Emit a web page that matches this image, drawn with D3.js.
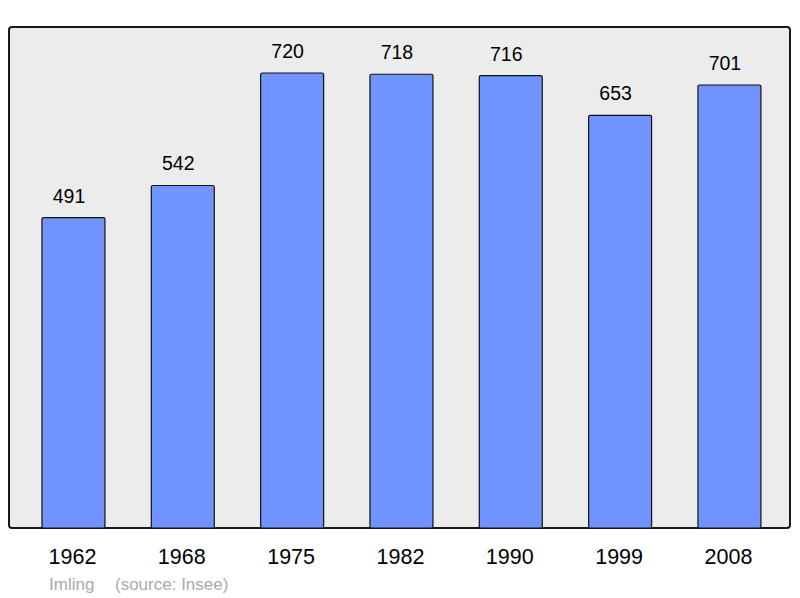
<!DOCTYPE html>
<html>
<head>
<meta charset="utf-8">
<title>Population</title>
<script src="https://cdn.jsdelivr.net/npm/d3@7"></script>
<style>
  body { margin: 0; background: #fff; }
  text { font-family: "Liberation Sans", Arial, sans-serif; }
</style>
</head>
<body>
<svg id="chart" width="800" height="598"></svg>
<script>
// data
var years = ["1962", "1968", "1975", "1982", "1990", "1999", "2008"];
var population = [491, 542, 720, 718, 716, 653, 701];
var footerAuthor = "Imling";
var footerSource = "(source: Insee)";

var svg = d3.select("#chart");

// frame
svg.append("rect")
    .attr("x", 9).attr("y", 27)
    .attr("width", 781).attr("height", 501)
    .attr("rx", 3)
    .attr("fill", "#ececec")
    .attr("stroke", "#1a1a1a")
    .attr("stroke-width", 2);

var x = d3.scaleBand()
    .domain(years)
    .range([18.8, 784.1])
    .paddingInner(0.424)
    .paddingOuter(0.212);

var y = d3.scaleLinear().domain([0, 720]).range([528, 73]);

var rows = years.map(function(d, i) { return {year: d, value: population[i]}; });

svg.selectAll("rect.bar")
    .data(rows)
    .enter().append("rect")
    .attr("class", "bar")
    .attr("x", function(d) { return x(d.year); })
    .attr("y", function(d) { return y(d.value); })
    .attr("width", x.bandwidth())
    .attr("height", function(d) { return y(0) - y(d.value); })
    .attr("rx", 1.5)
    .attr("fill", "#7094ff")
    .attr("stroke", "#111")
    .attr("stroke-width", 1.2);

// value labels (sit a little left of the bar centre)
svg.selectAll("text.val")
    .data(rows)
    .enter().append("text")
    .attr("class", "val")
    .attr("x", function(d) { return x(d.year) + x.bandwidth() / 2 - 4.5; })
    .attr("y", function(d) { return y(d.value) - 15; })
    .attr("text-anchor", "middle")
    .attr("font-size", 19.5)
    .attr("fill", "#000")
    .text(function(d) { return d.value; });

// year axis
var xAxis = d3.axisBottom(x).tickSize(0).tickPadding(0);
var gx = svg.append("g")
    .attr("transform", "translate(0,549)")
    .call(xAxis);
gx.select(".domain").remove();
gx.selectAll("text")
    .attr("dx", "-1")
    .attr("font-size", 21.5)
    .attr("fill", "#000")
    .style("font-family", "'Liberation Sans', Arial, sans-serif");

// footer
svg.append("text")
    .attr("x", 49).attr("y", 590)
    .attr("font-size", 17)
    .attr("fill", "#aaa")
    .text(footerAuthor);
svg.append("text")
    .attr("x", 115).attr("y", 590)
    .attr("font-size", 17)
    .attr("fill", "#aaa")
    .text(footerSource);
</script>
</body>
</html>
